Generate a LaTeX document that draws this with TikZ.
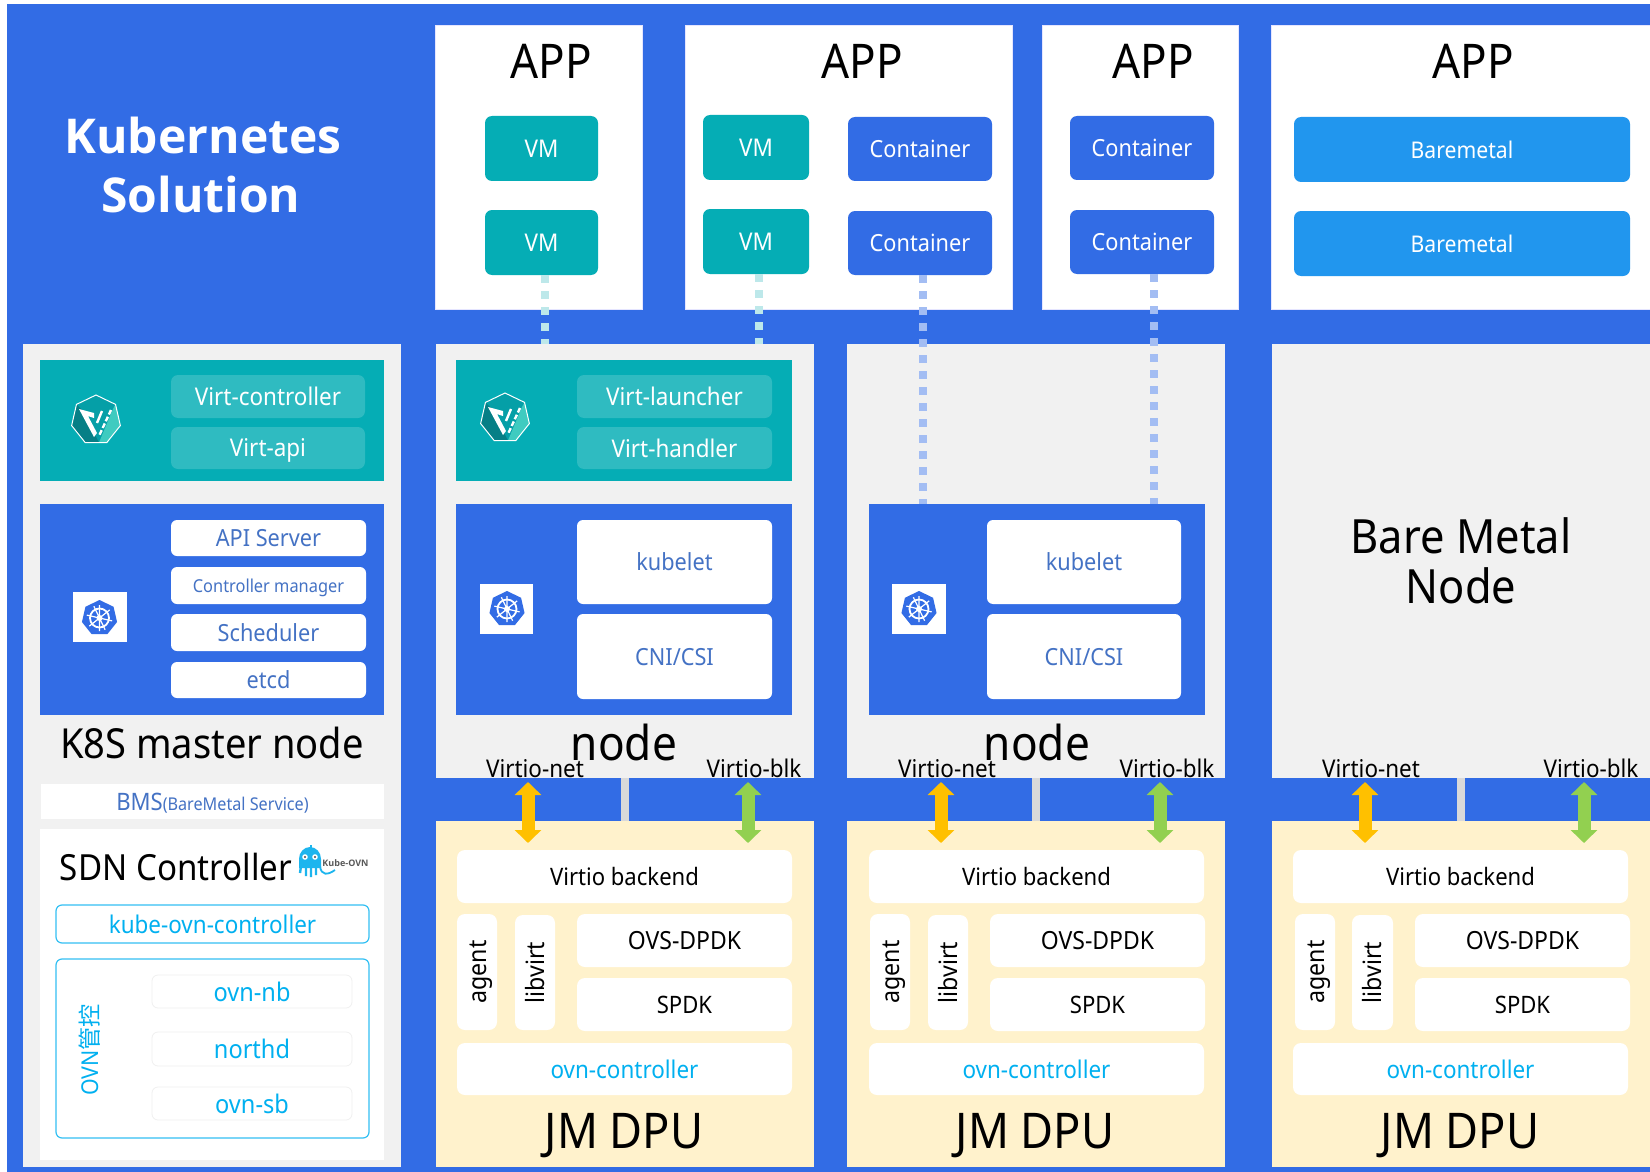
\documentclass[tikz,border=0pt]{standalone}
\usepackage{fontspec}
\setmainfont{Noto Sans}[FakeStretch=0.92]
\newfontfamily\cjk{Noto Sans CJK SC}
\newfontfamily\tfont{Open Sans}
\usetikzlibrary{arrows.meta}
\definecolor{kblue}{HTML}{326CE5}
\definecolor{kteal}{HTML}{05ADB5}
\definecolor{kbtn}{HTML}{2FBBC1}
\definecolor{kbare}{HTML}{2196EE}
\definecolor{kgray}{HTML}{F1F1F1}
\definecolor{kcream}{HTML}{FFF2CC}
\definecolor{ktext}{HTML}{4472C4}
\definecolor{kcyan}{HTML}{00B0F0}
\definecolor{korange}{HTML}{FFC000}
\definecolor{kgreen}{HTML}{92D050}
\definecolor{ksquid}{HTML}{1CB5EE}
\definecolor{kdark}{HTML}{067F86}
\definecolor{klight}{HTML}{3FCBC0}
\definecolor{kvmdot}{HTML}{BDE8EA}
\newcommand{\fs}[1]{\fontsize{#1}{#1}\selectfont}
% box by its corners: style, name, x0, y0, x1, y1, text
\newcommand{\bx}[7][]{\node[inner sep=0pt,outer sep=0pt,align=center,text depth=0pt,
   minimum width={(#5-#3)*0.5pt},minimum height={(#6-#4)*0.5pt},#1]
   (#2) at ({(#3+#5)/2},{(#4+#6)/2}) {#7};}
\newcommand{\hepta}[1]{(-90:#1) -- (-38.6:#1) -- (12.9:#1) -- (64.3:#1) --
   (115.7:#1) -- (167.1:#1) -- (218.6:#1) -- cycle}
\newcommand{\virtlogo}[2]{\begin{scope}[shift={(#1,#2)}]
   \fill[kteal!92!black] \hepta{25};
   \fill[kdark] (-19.5,-15.6) -- (-24.4,5.6) -- (-10.8,22.5) -- (3,22.5) -- (-14,-10) -- cycle;
   \fill[klight] (3,22.5) -- (10.8,22.5) -- (24.4,5.6) -- (19.5,-15.6) -- (17,-11) -- cycle;
   \draw[white,line width=0.5pt] \hepta{25};
   \fill[white] (-17,-11) -- (-2,-7) -- (-2,-2) -- (-8,-4) -- (1,13) -- (-2,17) -- cycle;
   \draw[white,line width=1.2pt,dash pattern=on 2.5pt off 1.2pt] (15,-10) -- (3,16);
   \draw[white,line width=1.2pt] (6,-9) -- (1,3);
 \end{scope}}
\newcommand{\kubelogo}[2]{\begin{scope}[shift={(#1,#2)}]
   \fill[kblue,line join=round] \hepta{18};
   \draw[white,line width=0.9pt] (0,0) circle(9.5);
   \fill[white] (0,0) circle(3);
   \draw[white,line width=0.6pt] (-90:13) -- (90:13) (-38.6:13) -- (141.4:13)
     (12.9:13) -- (192.9:13) (64.3:13) -- (244.3:13);
 \end{scope}}

\begin{document}
\begin{tikzpicture}[x=0.5pt,y=-0.5pt,
   panel/.style={fill=kgray},
   inner/.style={fill=kblue},
   virt/.style={fill=kteal},
   virtbtn/.style={fill=kbtn,rounded corners=3.5pt,text=white,font=\fs{12.2}},
   kbtn/.style={fill=white,rounded corners=3pt,text=ktext,font=\fs{11.8}},
   app/.style={fill=white,draw=blue!10,line width=0.5pt},
   vmbtn/.style={fill=kteal,rounded corners=3.5pt,text=white,font=\fs{12.2}},
   conbtn/.style={fill=kblue,rounded corners=3.5pt,text=white,font=\fs{11.8}},
   barebtn/.style={fill=kbare,rounded corners=3.5pt,text=white,font=\fs{11.5}},
   dpubtn/.style={fill=white,rounded corners=4pt,font=\fs{12}},
   ovnbtn/.style={dpubtn,text=kcyan,font=\fs{12.2}},
   ovsbtn/.style={dpubtn,font=\fs{12.5}},
   sidebtn/.style={dpubtn,font=\fs{12.6}},
   ovnsub/.style={draw=black!6,line width=0.4pt,rounded corners=3pt,text=kcyan,font=\fs{12.8}},
   ovnout/.style={draw=kcyan!80,line width=0.6pt,rounded corners=3pt,text=kcyan,font=\fs{12.2}},
   title/.style={font=\fs{23.9}},
   bigtxt/.style={font=\fs{24}},
   small/.style={font=\fs{12.2}},
   vmdot/.style={line width=4pt,color=kvmdot,dash pattern=on 4pt off 4pt},
   condot/.style={line width=4pt,color=kblue!45!white,dash pattern=on 4pt off 4pt},
   bridge/.style={line width=4pt,color=black!15},
   netarrow/.style={line width=6.5pt,color=#1,{Triangle[length=6.5pt,width=13pt]}-{Triangle[length=6.5pt,width=13pt]}},
 ]
 \useasboundingbox (0,0) rectangle (1650,1172);
 \fill[kblue] (7,4) rectangle (1650,1172);
 \node[text=white,font=\tfont\bfseries\fs{24}] (titleA) at (203,136) {Kubernetes};
 \node[text=white,font=\tfont\bfseries\fs{24}] (titleB) at (201,195) {Solution};
 %
 % APP row
 \bx[app]{appA}{435}{26}{642}{309}{}
 \bx[app]{appB}{685}{26}{1012}{309}{}
 \bx[app]{appC}{1042}{26}{1238}{309}{}
 \bx[app]{appD}{1271}{26}{1660}{309}{}
 \node[title] (appTxtA) at ( 551, 61) {APP};
 \node[title] (appTxtB) at ( 862, 61) {APP};
 \node[title] (appTxtC) at (1153, 61) {APP};
 \node[title] (appTxtD) at (1473, 61) {APP};
 \bx[vmbtn]{vmA}{485}{116}{598}{181}{VM}
 \bx[vmbtn]{vmB}{485}{210}{598}{275}{VM}
 \bx[vmbtn]{vmC}{703}{115}{809}{180}{VM}
 \bx[vmbtn]{vmD}{703}{209}{809}{274}{VM}
 \bx[conbtn]{conA}{848}{117}{992}{181}{Container}
 \bx[conbtn]{conB}{848}{211}{992}{275}{Container}
 \bx[conbtn]{conC}{1070}{116}{1214}{180}{Container}
 \bx[conbtn]{conD}{1070}{210}{1214}{274}{Container}
 \bx[barebtn]{bareA}{1294}{117}{1630}{182}{Baremetal}
 \bx[barebtn]{bareB}{1294}{211}{1630}{276}{Baremetal}
 %
 % k8s master
 \bx[panel]{panelM}{23}{344}{401}{1167}{}
 \bx[virt]{virtM}{40}{360}{384}{481}{}
 \bx[virtbtn]{vctl}{171}{375}{365}{418}{Virt-controller}
 \bx[virtbtn]{vapi}{171}{427}{365}{469}{Virt-api}
 \virtlogo{96}{420}
 \bx[inner]{k8sM}{40}{504}{384}{715}{}
 \bx[kbtn]{apisrv}{171}{520}{366}{556}{API Server}
 \bx[kbtn,font=\fs{8.9}]{ctlmgr}{171}{567}{366}{604}{Controller manager}
 \bx[kbtn]{sched}{171}{614}{366}{651}{Scheduler}
 \bx[kbtn]{etcd}{171}{662}{366}{698}{etcd}
 \bx[fill=white]{logoM}{73}{592}{127}{642}{}
 \kubelogo{99.5}{618}
 \node[font=\fs{20.7}] (mastertxt) at (212,743) {K8S master node};
 \bx[fill=white,text=ktext]{bms}{41}{784}{384}{819}{\fs{12}BMS\fs{8.8}(BareMetal Service)}
 \bx[fill=white]{sdn}{40}{829}{384}{1160}{}
 \node[font=\fs{18}] (sdntxt) at (176,867) {SDN Controller};
 % octopus logo
 \fill[ksquid] (299,859) arc(180:360:11 and 12) -- (321,868) -- (299,868) -- cycle;
 \fill[ksquid] (309.5,845) rectangle (311.5,848);
 \draw[ksquid,line width=1.2pt] (301,866) -- (300,873) (306,866) -- (306,876)
   (311,866) -- (311,877) (316,866) -- (316,875);
 \draw[ksquid,line width=0.9pt] (320,866) .. controls (321,876) and (328,875) .. (335,870);
 \fill[white] (305,857) circle(2.8) (315,857) circle(2.8);
 \fill[black!70] (305,857) circle(1.2) (315,857) circle(1.2);
 \node[font=\tfont\bfseries\fs{4.5},text=black!65] (ovnlogo) at (345.5,863) {Kube-OVN};
 \bx[ovnout]{kovn}{56}{905}{369}{943}{kube-ovn-controller}
 \bx[ovnout]{ovnbox}{56}{959}{369}{1138}{}
 \node[rotate=90,text=kcyan,font=\fs{11.6}] (ovntxt) at (90,1050) {OVN{\cjk 管控}};
 \bx[ovnsub]{ovnnb}{152}{975}{352}{1008}{ovn-nb}
 \bx[ovnsub]{northd}{152}{1032}{352}{1066}{northd}
 \bx[ovnsub]{ovnsb}{152}{1087}{352}{1120}{ovn-sb}
 %
 % node column one
 \bx[panel]{nodeA}{436}{344}{814}{778}{}
 \bx[virt]{virtA}{456}{360}{792}{481}{}
 \bx[virtbtn]{vlnch}{577}{375}{772}{418}{Virt-launcher}
 \bx[virtbtn]{vhdl}{577}{427}{772}{469}{Virt-handler}
 \virtlogo{505}{418}
 \bx[inner]{k8sA}{456}{504}{792}{715}{}
 \bx[kbtn]{kletA}{577}{520}{772}{604}{kubelet}
 \bx[kbtn]{cniA}{577}{614}{772}{699}{CNI/CSI}
 \bx[fill=white]{logoA}{480}{584}{533}{634}{}
 \kubelogo{507}{609}
 \node[bigtxt] (nodetxtA) at (624,742) {node};
 \node[small] (netA) at (535,769) {Virtio-net};
 \node[small] (blkA) at (754,768) {Virtio-blk};
 \bx[fill=kcream]{dpuA}{436}{821}{814}{1167}{}
 \bx[dpubtn]{vioA}{457}{850}{792}{903}{Virtio backend}
 \bx[sidebtn]{agentA}{457}{914}{497}{1030}{\hspace{4pt}\rotatebox{90}{agent}}
 \bx[sidebtn]{libvA}{515}{915}{555}{1030}{\rotatebox{90}{libvirt}}
 \bx[ovsbtn]{ovsA}{577}{914}{792}{967}{OVS-DPDK}
 \bx[dpubtn]{spdkA}{577}{978}{792}{1031}{SPDK}
 \bx[ovnbtn]{octlA}{457}{1043}{792}{1095}{ovn-controller}
 \node[bigtxt,font=\fs{24.6}] (dputxtA) at (624,1136) {JM DPU};
 %
 % node column two
 \bx[panel]{nodeB}{847}{344}{1225}{778}{}
 \bx[inner]{k8sB}{869}{504}{1205}{715}{}
 \bx[kbtn]{kletB}{987}{520}{1181}{604}{kubelet}
 \bx[kbtn]{cniB}{987}{614}{1181}{699}{CNI/CSI}
 \bx[fill=white]{logoB}{892}{584}{946}{634}{}
 \kubelogo{919}{609}
 \node[bigtxt] (nodetxtB) at (1037,742) {node};
 \node[small] (netB) at (947,769) {Virtio-net};
 \node[small] (blkB) at (1167,768) {Virtio-blk};
 \bx[fill=kcream]{dpuB}{847}{821}{1225}{1167}{}
 \bx[dpubtn]{vioB}{869}{850}{1204}{903}{Virtio backend}
 \bx[sidebtn]{agentB}{870}{914}{910}{1030}{\hspace{4pt}\rotatebox{90}{agent}}
 \bx[sidebtn]{libvB}{928}{915}{968}{1030}{\rotatebox{90}{libvirt}}
 \bx[ovsbtn]{ovsB}{990}{914}{1205}{967}{OVS-DPDK}
 \bx[dpubtn]{spdkB}{990}{978}{1205}{1031}{SPDK}
 \bx[ovnbtn]{octlB}{869}{1043}{1204}{1095}{ovn-controller}
 \node[bigtxt,font=\fs{24.6}] (dputxtB) at (1035,1136) {JM DPU};
 %
 % bare metal column
 \bx[panel]{nodeC}{1272}{344}{1660}{778}{}
 \node[bigtxt,font=\fs{23.6}] (baretxtA) at (1461,536) {Bare Metal};
 \node[bigtxt,font=\fs{23.6}] (baretxtB) at (1461,586) {Node};
 \node[small] (netC) at (1371,769) {Virtio-net};
 \node[small] (blkC) at (1591,768) {Virtio-blk};
 \bx[fill=kcream]{dpuC}{1272}{821}{1660}{1167}{}
 \bx[dpubtn]{vioC}{1293}{850}{1628}{903}{Virtio backend}
 \bx[sidebtn]{agentC}{1295}{914}{1335}{1030}{\hspace{4pt}\rotatebox{90}{agent}}
 \bx[sidebtn]{libvC}{1352}{915}{1393}{1030}{\rotatebox{90}{libvirt}}
 \bx[ovsbtn]{ovsC}{1415}{914}{1630}{967}{OVS-DPDK}
 \bx[dpubtn]{spdkC}{1415}{978}{1630}{1031}{SPDK}
 \bx[ovnbtn]{octlC}{1293}{1043}{1628}{1095}{ovn-controller}
 \node[bigtxt,font=\fs{24.6}] (dputxtC) at (1460,1136) {JM DPU};
 %
 % connectors
 \coordinate (dotA) at ( 545,0);
 \coordinate (dotB) at ( 759,0);
 \coordinate (dotC) at ( 923,0);
 \coordinate (dotD) at (1154,0);
 \draw[vmdot]  (vmB.south -| dotA) -- (nodeA.north -| dotA);
 \draw[vmdot]  (vmD.south -| dotB) -- (nodeA.north -| dotB);
 \draw[condot] (conB.south -| dotC) -- (k8sB.north -| dotC);
 \draw[condot] (conD.south -| dotD) -- (k8sB.north -| dotD);
 %
 \coordinate (brA) at ( 624.5,0);
 \coordinate (brB) at (1036,0);
 \coordinate (brC) at (1461,0);
 \draw[bridge] (nodeA.south -| brA) -- (dpuA.north -| brA);
 \draw[bridge] (nodeB.south -| brB) -- (dpuB.north -| brB);
 \draw[bridge] (nodeC.south -| brC) -- (dpuC.north -| brC);
 %
 \coordinate (arTopA) at ( 528,782); \coordinate (arBotA) at ( 528,843);
 \coordinate (arTopB) at ( 748,782); \coordinate (arBotB) at ( 748,843);
 \coordinate (arTopC) at ( 941,782); \coordinate (arBotC) at ( 941,843);
 \coordinate (arTopD) at (1160,782); \coordinate (arBotD) at (1160,843);
 \coordinate (arTopE) at (1365,782); \coordinate (arBotE) at (1365,843);
 \coordinate (arTopF) at (1584,782); \coordinate (arBotF) at (1584,843);
 \draw[netarrow=korange] (arTopA) -- (arBotA);
 \draw[netarrow=kgreen]  (arTopB) -- (arBotB);
 \draw[netarrow=korange] (arTopC) -- (arBotC);
 \draw[netarrow=kgreen]  (arTopD) -- (arBotD);
 \draw[netarrow=korange] (arTopE) -- (arBotE);
 \draw[netarrow=kgreen]  (arTopF) -- (arBotF);
\end{tikzpicture}
\end{document}
